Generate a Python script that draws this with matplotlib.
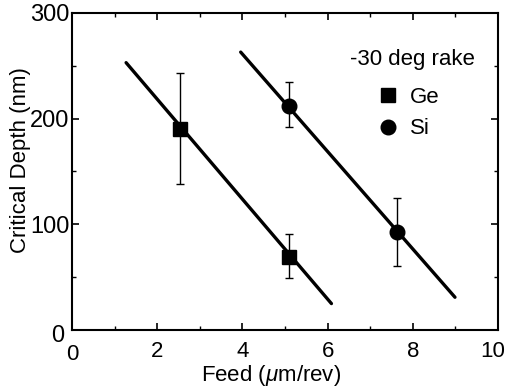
import matplotlib.pyplot as plt
from matplotlib.ticker import MultipleLocator
from matplotlib.transforms import ScaledTranslation

plt.rcParams['font.family'] = ['Liberation Sans', 'DejaVu Sans']
plt.rcParams['mathtext.fontset'] = 'custom'
plt.rcParams['mathtext.it'] = 'Liberation Sans:italic'

# measured points
ge_feed = [2.54, 5.1]
ge_depth = [190, 69]
ge_lo = [138, 49]
ge_hi = [243, 91]

si_feed = [5.1, 7.62]
si_depth = [212, 93]
si_lo = [192, 61]
si_hi = [235, 125]

# fitted lines (end points)
ge_fit_x = [1.27, 6.09]
ge_fit_y = [253, 25]
si_fit_x = [3.96, 8.99]
si_fit_y = [263, 31]

fig = plt.figure(figsize=(5.09, 3.87), dpi=100)
ax = fig.add_axes([72 / 509, 1 - 330 / 387, 426 / 509, 317 / 387])

ax.plot(ge_fit_x, ge_fit_y, color='black', lw=2.4, solid_capstyle='round')
ax.plot(si_fit_x, si_fit_y, color='black', lw=2.4, solid_capstyle='round')

ge_err = [[d - l for d, l in zip(ge_depth, ge_lo)], [h - d for d, h in zip(ge_depth, ge_hi)]]
si_err = [[d - l for d, l in zip(si_depth, si_lo)], [h - d for d, h in zip(si_depth, si_hi)]]
ax.errorbar(ge_feed, ge_depth, yerr=ge_err, fmt='s', color='black', ms=9.5,
            ecolor='black', elinewidth=1, capsize=3, capthick=1)
ax.errorbar(si_feed, si_depth, yerr=si_err, fmt='o', color='black', ms=10.5,
            ecolor='black', elinewidth=1, capsize=3, capthick=1)

ax.set_xlim(0, 10)
ax.set_ylim(0, 300)
ax.xaxis.set_major_locator(MultipleLocator(2))
ax.xaxis.set_minor_locator(MultipleLocator(1))
ax.yaxis.set_major_locator(MultipleLocator(100))
ax.yaxis.set_minor_locator(MultipleLocator(50))
ax.tick_params(which='both', direction='in', top=True, right=True)
ax.tick_params(axis='y', labelsize=17, pad=2)
ax.tick_params(axis='x', labelsize=16, pad=8)
ax.tick_params(which='major', length=5, width=1.2)
ax.tick_params(which='minor', length=3, width=1)
for s in ax.spines.values():
    s.set_linewidth(1.5)


def nudge(axis, value, dx, dy):
    # shift the tick label at `value` by (dx, dy) pixels
    locs = list(axis.get_majorticklocs())
    tick = axis.get_major_ticks()[locs.index(value)]
    lab = tick.label1
    lab.set_transform(lab.get_transform()
                      + ScaledTranslation(dx / 100, dy / 100, fig.dpi_scale_trans))


nudge(ax.xaxis, 10, -5, 0)
nudge(ax.xaxis, 0, 0, -3)
nudge(ax.yaxis, 0, -5, -3)

ax.set_xlabel(r'Feed ($\mathit{\mu}$m/rev)', fontsize=16)
ax.set_ylabel('Critical Depth (nm)', fontsize=16)
ax.xaxis.set_label_coords(0.468, -0.105)
ax.yaxis.set_label_coords(-0.096, 0.536)

# legend drawn as text + markers
ax.text(0.80, 0.852, '-30 deg rake', transform=ax.transAxes, fontsize=16,
        ha='center', va='center')
ax.plot([0.742], [0.741], 's', color='black', ms=9.5, transform=ax.transAxes)
ax.text(0.793, 0.733, 'Ge', transform=ax.transAxes, fontsize=16, va='center')
ax.plot([0.742], [0.640], 'o', color='black', ms=10.5, transform=ax.transAxes)
ax.text(0.793, 0.637, 'Si', transform=ax.transAxes, fontsize=16, va='center')

fig.savefig('out.png', dpi=100)
